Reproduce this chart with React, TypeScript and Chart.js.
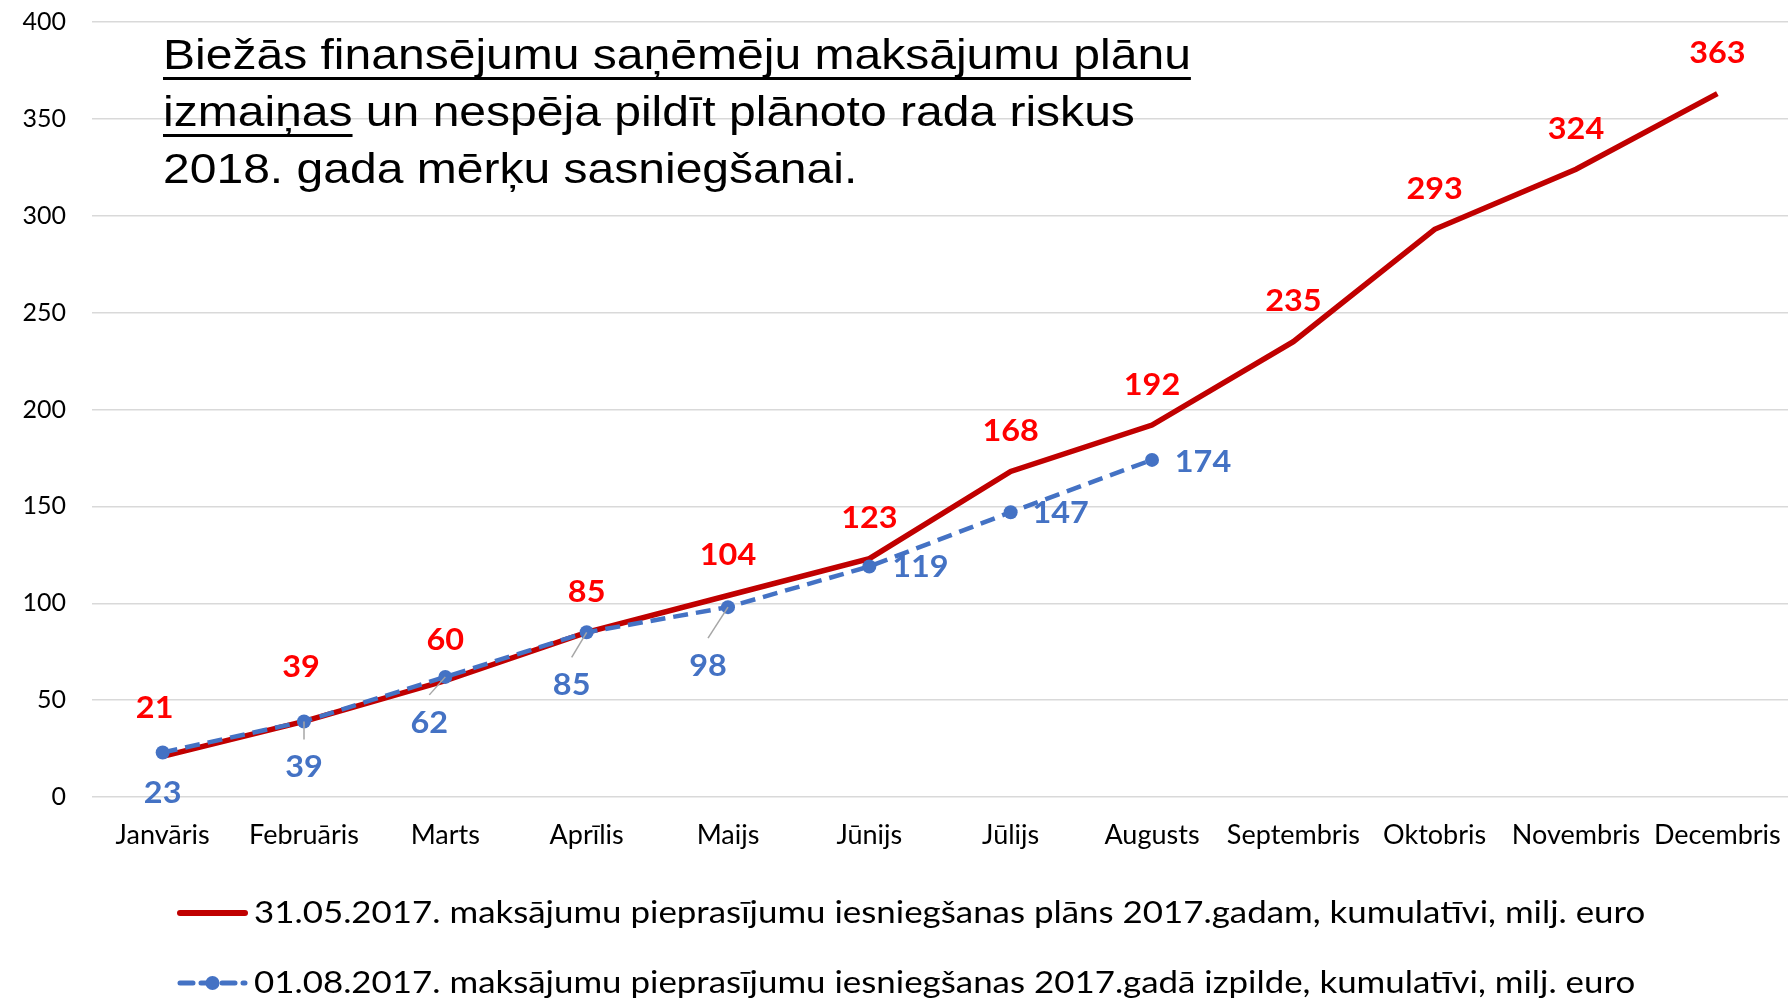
import React, { useEffect, useRef } from "react";
import { Chart, registerables } from "chart.js";

Chart.register(...registerables);

// ---- data ----
const months = [
  "Janvāris", "Februāris", "Marts", "Aprīlis", "Maijs", "Jūnijs",
  "Jūlijs", "Augusts", "Septembris", "Oktobris", "Novembris", "Decembris",
];
const planValues = [21, 39, 60, 85, 104, 123, 168, 192, 235, 293, 324, 363];
const actualValues: (number | null)[] = [23, 39, 62, 85, 98, 119, 147, 174, null, null, null, null];
const yMin = 0;
const yMax = 400;
const yStep = 50;
const planLegend = "31.05.2017. maksājumu pieprasījumu iesniegšanas plāns 2017.gadam, kumulatīvi, milj. euro";
const actualLegend = "01.08.2017. maksājumu pieprasījumu iesniegšanas 2017.gadā izpilde, kumulatīvi, milj. euro";

// ---- label placement (style) ----
const planLabelOffsets = {
  dx: [-8, -3, 0, 0, 0, 0, 0, 0, 0, 0, 0, 0],
  dy: [-48, -54, -40, -40, -40, -40, -40, -40, -40, -40, -40, -40],
};
const actualLabelOffsets = {
  dx: [0, 0, -16, -15, -20, 51, 50, 51],
  dy: [41, 46, 46, 53, 59, 1, 1, 2],
  leader: [false, true, true, true, true, false, false, false],
};

const RED = "#c00000";
const RED_TEXT = "#ff0000";
const BLUE = "#4472c4";
const FONT = "Lato, 'Open Sans', sans-serif";

function stretchedText(ctx: CanvasRenderingContext2D, text: string, x: number, y: number, sx: number, align: CanvasTextAlign) {
  ctx.save();
  ctx.translate(x, y);
  ctx.scale(sx, 1);
  ctx.textAlign = align;
  ctx.fillText(text, 0, 0);
  ctx.restore();
}

const labelsPlugin = {
  id: "valueLabels",
  afterDatasetsDraw(chart: any) {
    const ctx = chart.ctx as CanvasRenderingContext2D;
    ctx.save();
    ctx.font = `bold 30px ${FONT}`;
    ctx.textBaseline = "middle";
    chart.data.datasets.forEach((ds: any, di: number) => {
      const meta = chart.getDatasetMeta(di);
      const isPlan = ds.key === "plan";
      const off: any = isPlan ? planLabelOffsets : actualLabelOffsets;
      meta.data.forEach((pt: any, i: number) => {
        const v = ds.data[i];
        if (v === null || v === undefined) return;
        const lx = pt.x + (off.dx[i] || 0);
        const ly = pt.y + (off.dy[i] || 0);
        if (!isPlan && off.leader[i]) {
          ctx.strokeStyle = "#a6a6a6";
          ctx.lineWidth = 1.5;
          ctx.beginPath();
          ctx.moveTo(pt.x, pt.y);
          ctx.lineTo(lx, ly - 28);
          ctx.stroke();
        }
        ctx.fillStyle = isPlan ? RED_TEXT : BLUE;
        stretchedText(ctx, String(v), lx, ly, 1.08, "center");
      });
    });
    ctx.restore();
  },
};

const legendPlugin = {
  id: "customLegend",
  afterDraw(chart: any) {
    const ctx = chart.ctx as CanvasRenderingContext2D;
    ctx.save();
    const x0 = 177;
    const x1 = 248;
    const tx = 254;
    const y1 = 913;
    const y2 = 983;
    // plan symbol
    ctx.strokeStyle = RED;
    ctx.lineWidth = 6;
    ctx.lineCap = "round";
    ctx.beginPath();
    ctx.moveTo(x0 + 3, y1);
    ctx.lineTo(x1 - 3, y1);
    ctx.stroke();
    // actual symbol
    ctx.strokeStyle = BLUE;
    ctx.lineWidth = 5;
    ctx.lineCap = "round";
    ctx.setLineDash([13, 8]);
    ctx.beginPath();
    ctx.moveTo(x0 + 3, y2);
    ctx.lineTo(x1 - 3, y2);
    ctx.stroke();
    ctx.setLineDash([]);
    ctx.fillStyle = BLUE;
    ctx.beginPath();
    ctx.arc((x0 + x1) / 2, y2, 7, 0, Math.PI * 2);
    ctx.fill();
    // texts
    ctx.fillStyle = "#000";
    ctx.font = `31px ${FONT}`;
    ctx.textBaseline = "middle";
    stretchedText(ctx, planLegend, tx, y1, 1.125, "left");
    stretchedText(ctx, actualLegend, tx, y2, 1.125, "left");
    ctx.restore();
  },
};

export default function App() {
  const canvasRef = useRef<HTMLCanvasElement | null>(null);

  useEffect(() => {
    const canvas = canvasRef.current;
    if (!canvas) return;
    const chart = new Chart(canvas, {
      type: "line",
      data: {
        labels: months,
        datasets: [
          {
            key: "plan",
            label: planLegend,
            data: planValues,
            borderColor: RED,
            backgroundColor: RED,
            borderWidth: 5.5,
            pointRadius: 0,
            pointHoverRadius: 0,
            tension: 0,
            order: 2,
          } as any,
          {
            key: "actual",
            label: actualLegend,
            data: actualValues,
            borderColor: BLUE,
            backgroundColor: BLUE,
            borderWidth: 4.5,
            borderDash: [15, 8],
            pointRadius: 7,
            pointBorderWidth: 0,
            pointBackgroundColor: BLUE,
            tension: 0,
            spanGaps: false,
            order: 1,
          } as any,
        ],
      },
      options: {
        animation: false,
        responsive: false,
        devicePixelRatio: 1,
        layout: { autoPadding: false, padding: { top: 22, left: 0, right: 0, bottom: 0 } },
        plugins: {
          legend: { display: false },
          tooltip: { enabled: false },
        },
        scales: {
          x: {
            type: "category",
            offset: true,
            grid: { display: false },
            border: { display: false },
            ticks: {
              color: "#000",
              font: { family: FONT, size: 27 },
              padding: 14,
              maxRotation: 0,
              autoSkip: false,
            },
            afterFit(scale: any) {
              scale.height = 203;
              scale.paddingLeft = 0;
              scale.paddingRight = 0;
            },
          },
          y: {
            min: yMin,
            max: yMax,
            grid: { color: "#d9d9d9", lineWidth: 1.5, drawTicks: false },
            border: { display: false },
            ticks: {
              stepSize: yStep,
              color: "#000",
              font: { family: FONT, size: 25 },
              padding: 26,
            },
            afterFit(scale: any) {
              scale.width = 92;
              scale.paddingTop = 0;
              scale.paddingBottom = 0;
            },
          },
        },
      },
      plugins: [labelsPlugin, legendPlugin],
    });
    return () => chart.destroy();
  }, []);

  const u: React.CSSProperties = {
    textDecoration: "underline",
    textDecorationThickness: "3px",
    textUnderlineOffset: "8px",
    textDecorationSkipInk: "none",
  };

  return (
    <div style={{ position: "fixed", left: 0, top: 0, width: 1788, height: 1000, background: "#fff" }}>
      <canvas ref={canvasRef} width={1788} height={1000} style={{ position: "absolute", left: 0, top: 0 }} />
      <div
        style={{
          position: "absolute",
          left: 163,
          top: 26,
          fontFamily: "'Liberation Sans', Arial, sans-serif",
          fontSize: 43,
          lineHeight: "57px",
          color: "#000",
          whiteSpace: "nowrap",
          transform: `scaleX(${1.117})`,
          transformOrigin: "left top",
        }}
      >
        <span style={u}>Biežās finansējumu saņēmēju maksājumu plānu</span>
        <br />
        <span style={u}>izmaiņas</span> un nespēja pildīt plānoto rada riskus
        <br />
        2018. gada mērķu sasniegšanai.
      </div>
    </div>
  );
}
